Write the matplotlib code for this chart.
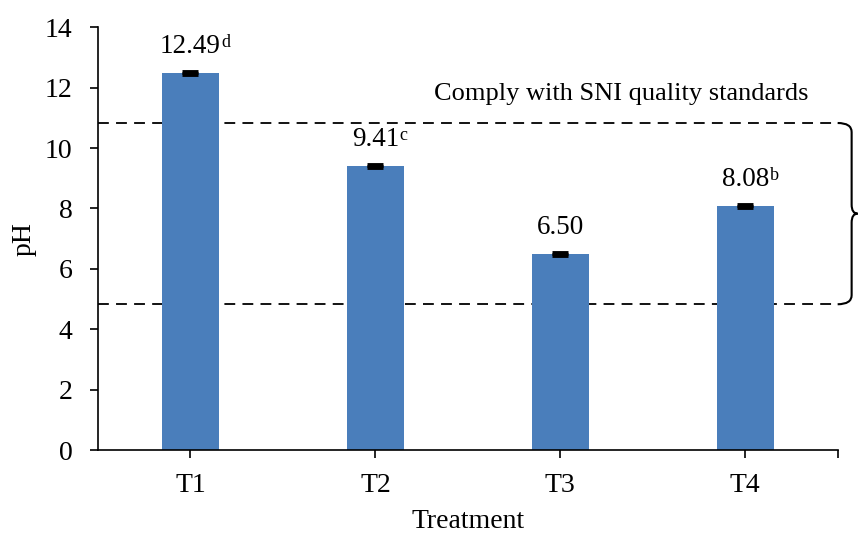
import numpy as np
import matplotlib
matplotlib.use("Agg")
import matplotlib.pyplot as plt
from matplotlib.path import Path
from matplotlib.patches import PathPatch

## Data

treatments = ["T1", "T2", "T3", "T4"]
ph_values = [12.49, 9.41, 6.50, 8.08]
ph_errors = [0.04, 0.04, 0.04, 0.04]
letters = ["d", "c", "", "b"]
sni_high = 10.83
sni_low = 4.83
note = "Comply with SNI quality standards"

plt.rcParams['font.family'] = ['Liberation Serif', 'DejaVu Serif']

fig = plt.figure(figsize=(8.6, 5.34), dpi=100)
ax = fig.add_axes([0.114, 0.157, 0.860, 0.792])

x = np.arange(len(treatments))
ax.bar(x, ph_values, width=0.31, color="#4a7ebb", zorder=2)
ax.errorbar(x, ph_values, yerr=ph_errors, fmt="none", ecolor="black",
            elinewidth=1.5, capsize=6, capthick=3.5, zorder=3)

# value labels, with the letter as a small raised text
for xi, v, l in zip(x, ph_values, letters):
    t = ax.annotate("%.2f" % v, (xi, v), xytext=(0, 10),
                    textcoords="offset points",
                    ha="center", va="bottom", fontsize=19.5)
    if l:
        ax.annotate(l, xy=(1.0, 1.0), xycoords=t, xytext=(0.5, 0),
                    textcoords="offset points", ha="left", va="top",
                    fontsize=13)

# SNI range lines
ax.axhline(sni_high, xmin=0, xmax=1, color="black", lw=1.3,
           dashes=(6, 4), zorder=1)
ax.axhline(sni_low, xmin=0, xmax=1, color="black", lw=1.3,
           dashes=(6, 4), zorder=1)

# brace on the right, outside the axes
bx = 3.5 + 14 / 185.0
r = 6 / 185.0
ymid = (sni_high + sni_low) / 2
dy = 0.3
verts = [(3.5, sni_high), (bx, sni_high), (bx, sni_high - dy),
         (bx, ymid + dy), (bx, ymid), (bx + r, ymid),
         (bx, ymid), (bx, ymid - dy),
         (bx, sni_low + dy), (bx, sni_low), (3.5, sni_low)]
codes = [Path.MOVETO, Path.CURVE3, Path.CURVE3,
         Path.LINETO, Path.CURVE3, Path.CURVE3,
         Path.CURVE3, Path.CURVE3,
         Path.LINETO, Path.CURVE3, Path.CURVE3]
brace = PathPatch(Path(verts, codes), facecolor="none", edgecolor="black",
                  lw=1.5, clip_on=False)
ax.add_patch(brace)

ax.text(3.34, 11.8, note, ha="right", va="center", fontsize=19)

ax.set_xlim(-0.5, 3.5)
ax.set_ylim(0, 14)
ax.set_yticks(np.arange(0, 15, 2))
ax.set_xticks(x)
ax.set_xticklabels(treatments)
ax.set_xticks([3.5], minor=True)
ax.tick_params(axis="both", which="both", length=5.5, width=1.2,
               labelsize=20, direction="out")
ax.tick_params(axis="x", pad=11)
ax.tick_params(axis="y", pad=13)

ax.spines["top"].set_visible(False)
ax.spines["right"].set_visible(False)
ax.spines["left"].set_linewidth(1.2)
ax.spines["bottom"].set_linewidth(1.2)

ax.set_xlabel("Treatment", fontsize=20, labelpad=8)
ax.set_ylabel("pH", fontsize=20, labelpad=6)

fig.savefig("out.png", dpi=100)
